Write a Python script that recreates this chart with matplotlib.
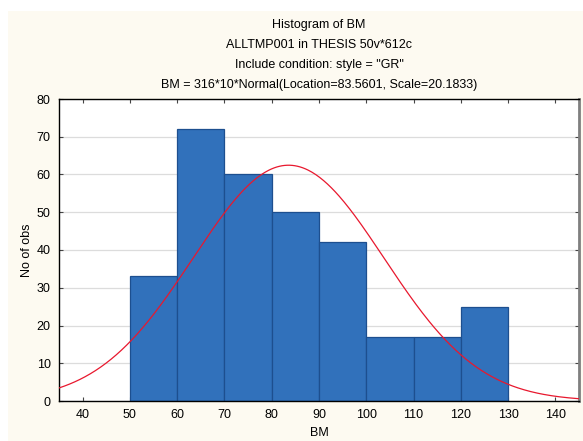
import numpy as np
import matplotlib.pyplot as plt
from matplotlib.patches import Rectangle

plt.rcParams['font.family'] = ['Liberation Sans', 'DejaVu Sans']

# histogram of BM, 10-wide bins
bin_left = [50, 60, 70, 80, 90, 100, 110, 120]
counts = [33, 72, 60, 50, 42, 17, 17, 25]
bin_width = 10

# fitted normal
n_obs = 316
loc = 83.5601
scale = 20.1833

title_lines = ["Histogram of BM",
               "ALLTMP001 in THESIS 50v*612c",
               'Include condition: style = "GR"',
               "BM = 316*10*Normal(Location=83.5601, Scale=20.1833)"]
xticks = [40, 50, 60, 70, 80, 90, 100, 110, 120, 130, 140]
yticks = [0, 10, 20, 30, 40, 50, 60, 70, 80]

W, H = 583, 441
fig = plt.figure(figsize=(W / 100, H / 100), dpi=100)
fig.patch.set_facecolor('white')
fig.patches.append(Rectangle((8 / W, 0), 1, 1 - 11 / H, transform=fig.transFigure,
                             facecolor='#fdfaf1', edgecolor='none', zorder=-10))

ax = fig.add_axes([59 / W, 1 - 401 / H, 520 / W, 302 / H])
ax.set_facecolor('white')

ax.bar(bin_left, counts, width=bin_width, align='edge',
       color='#3171bb', edgecolor='#1d4f8f', linewidth=0.9, zorder=2)

x = np.linspace(35, 145, 400)
pdf = np.exp(-0.5 * ((x - loc) / scale) ** 2) / (scale * np.sqrt(2 * np.pi))
ax.plot(x, n_obs * bin_width * pdf, color='#e8182e', lw=0.9, zorder=3)

ax.set_xlim(35, 145)
ax.set_ylim(0, 80)
ax.set_xticks(xticks)
ax.set_yticks(yticks)
ax.yaxis.grid(True, color='#dcdcdc', lw=0.9, zorder=0)
ax.set_axisbelow(True)
ax.tick_params(direction='in', length=3, width=0.8, labelsize=9,
               top=True, right=True, colors='#444444', labelcolor='black', pad=6)

for s in ['left', 'top', 'bottom']:
    ax.spines[s].set_color('black')
    ax.spines[s].set_linewidth(1.0)
ax.spines['right'].set_color('#7f7f7f')
ax.spines['right'].set_linewidth(2.0)

for i, line in enumerate(title_lines):
    fig.text(319 / W, 1 - (25 + 20 * i) / H, line, ha='center', va='center', fontsize=9)

fig.text(319 / W, 1 - 433 / H, "BM", ha='center', va='center', fontsize=9)
fig.text(27 / W, 1 - 250 / H, "No of obs", ha='center', va='center',
         rotation=90, fontsize=9)

fig.savefig('out.png', dpi=100)
